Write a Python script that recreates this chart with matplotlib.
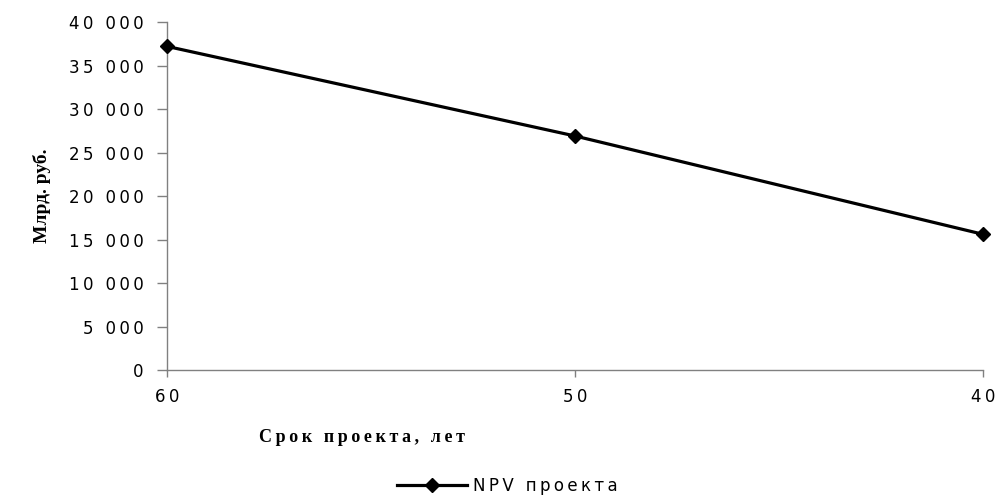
import matplotlib
matplotlib.use("Agg")
import matplotlib.pyplot as plt
from matplotlib.ticker import FuncFormatter

# data
years = ["60", "50", "40"]
npv = [37200, 26900, 15600]
y_ticks = [0, 5000, 10000, 15000, 20000, 25000, 30000, 35000, 40000]


def wide(s):
    # the reference text is letter-spaced; imitate with thin spaces
    return "\u2009".join(s)


fig = plt.figure(figsize=(9.97, 4.96), dpi=100)
ax = fig.add_axes([0.1675, 0.254, 0.8185, 0.7016])

x = list(range(len(years)))
ax.plot(x, npv, color="black", lw=2.3, marker="D", ms=7,
        clip_on=False, label=wide("NPV проекта"), zorder=3)

ax.set_xlim(0, len(years) - 1)
ax.set_ylim(0, 40000)
ax.set_xticks(x)
ax.set_xticklabels([wide(y) for y in years])
ax.set_yticks(y_ticks)
ax.yaxis.set_major_formatter(
    FuncFormatter(lambda v, p: wide(f"{int(v):,}".replace(",", " "))))

for s in ["top", "right"]:
    ax.spines[s].set_visible(False)
for s in ["left", "bottom"]:
    ax.spines[s].set_color("#808080")
    ax.spines[s].set_linewidth(1)

ax.tick_params(axis="y", length=7, width=1, color="#808080", pad=10,
               labelsize=12, labelfontfamily="DejaVu Sans")
ax.tick_params(axis="x", length=5, width=1, color="#808080", pad=8,
               labelsize=12, labelfontfamily="DejaVu Sans")

fig.text(0.363, 0.118, wide("Срок проекта, лет"), family="Liberation Serif",
         weight="bold", fontsize=13, ha="center", va="center")
fig.text(0.042, 0.605, "Млрд. руб.", family="Liberation Serif",
         weight="bold", fontsize=14, ha="center", va="center", rotation=90)

fig.legend(loc="center left", bbox_to_anchor=(397 / 997, 1 - 486 / 496),
           frameon=False, prop={"family": "DejaVu Sans", "size": 12},
           handlelength=4.2, handletextpad=0.35, borderaxespad=0, borderpad=0)

fig.savefig("out.png", dpi=100, facecolor="white")
